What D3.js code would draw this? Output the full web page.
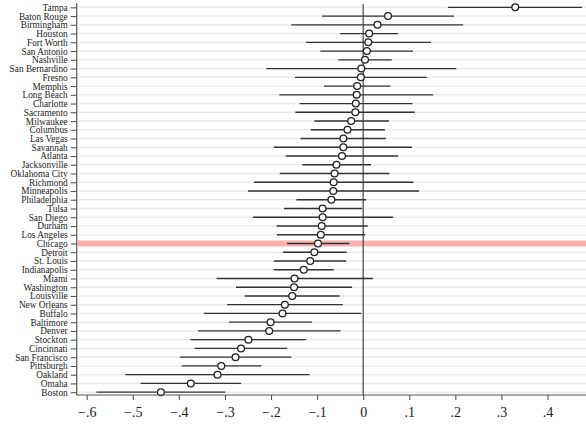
<!DOCTYPE html>
<html>
<head>
<meta charset="utf-8">
<script src="https://cdn.jsdelivr.net/npm/d3@7"></script>
<style>
  html, body { margin: 0; padding: 0; background: #fff; }
  svg { display: block; }
</style>
</head>
<body>
<script>
const cities = ["Tampa","Baton Rouge","Birmingham","Houston","Fort Worth","San Antonio","Nashville","San Bernardino","Fresno","Memphis","Long Beach","Charlotte","Sacramento","Milwaukee","Columbus","Las Vegas","Savannah","Atlanta","Jacksonville","Oklahoma City","Richmond","Minneapolis","Philadelphia","Tulsa","San Diego","Durham","Los Angeles","Chicago","Detroit","St. Louis","Indianapolis","Miami","Washington","Louisville","New Orleans","Buffalo","Baltimore","Denver","Stockton","Cincinnati","San Francisco","Pittsburgh","Oakland","Omaha","Boston"];
const estimates = [0.330,0.054,0.031,0.013,0.011,0.008,0.004,-0.004,-0.005,-0.013,-0.014,-0.016,-0.017,-0.026,-0.034,-0.043,-0.043,-0.046,-0.058,-0.062,-0.064,-0.065,-0.069,-0.088,-0.088,-0.090,-0.092,-0.098,-0.106,-0.115,-0.129,-0.149,-0.150,-0.154,-0.170,-0.175,-0.201,-0.204,-0.249,-0.265,-0.277,-0.308,-0.316,-0.374,-0.439];
const lower = [0.184,-0.089,-0.156,-0.050,-0.124,-0.093,-0.054,-0.210,-0.148,-0.085,-0.182,-0.138,-0.147,-0.106,-0.114,-0.136,-0.194,-0.168,-0.132,-0.181,-0.237,-0.250,-0.145,-0.172,-0.239,-0.188,-0.187,-0.165,-0.174,-0.194,-0.194,-0.318,-0.276,-0.257,-0.295,-0.346,-0.291,-0.358,-0.375,-0.366,-0.398,-0.394,-0.516,-0.483,-0.579];
const upper = [0.475,0.197,0.217,0.076,0.147,0.108,0.062,0.202,0.138,0.059,0.152,0.107,0.112,0.056,0.047,0.049,0.106,0.076,0.017,0.057,0.109,0.121,0.0065,-0.002,0.065,0.010,0.004,-0.030,-0.036,-0.037,-0.064,0.021,-0.024,-0.051,-0.044,-0.004,-0.111,-0.049,-0.124,-0.165,-0.156,-0.221,-0.116,-0.265,-0.299];
const highlight = "Chicago";
const xTicks = [-0.6,-0.5,-0.4,-0.3,-0.2,-0.1,0,0.1,0.2,0.3,0.4];

const W = 586, H = 425;
const pLeft = 76.7, pRight = 586, pTop = 3, pBottom = 395;

const svg = d3.select("body").append("svg").attr("width", W).attr("height", H);

const x = d3.scaleLinear().domain([-0.6, 0.4]).range([86.7, 547.5]);
const y = d3.scalePoint().domain(cities).range([7.3, 392.2]).padding(0);

const rows = cities.map((c, i) => ({c, est: estimates[i], lo: lower[i], hi: upper[i]}));

// gridlines
svg.append("g").selectAll("line").data(cities).join("line")
  .attr("x1", pLeft + 1).attr("x2", pRight)
  .attr("y1", d => y(d)).attr("y2", d => y(d))
  .attr("stroke", "#ebebeb").attr("stroke-width", 1.5);

// highlight band
svg.append("rect")
  .attr("x", pLeft + 1).attr("width", pRight - pLeft - 1)
  .attr("y", y(highlight) - 3).attr("height", 6)
  .attr("fill", "#fbb0b0");

// zero line
svg.append("line")
  .attr("x1", x(0)).attr("x2", x(0)).attr("y1", 4).attr("y2", pBottom)
  .attr("stroke", "#444").attr("stroke-width", 1.2);

// CI lines
svg.append("g").selectAll("line").data(rows).join("line")
  .attr("x1", d => x(d.lo)).attr("x2", d => x(d.hi))
  .attr("y1", d => y(d.c)).attr("y2", d => y(d.c))
  .attr("stroke", "#333").attr("stroke-width", 1.3);

// points
svg.append("g").selectAll("circle").data(rows).join("circle")
  .attr("cx", d => x(d.est)).attr("cy", d => y(d.c)).attr("r", 3.4)
  .attr("fill", "#fff").attr("stroke", "#222").attr("stroke-width", 1.3);

// y axis
const yAxis = d3.axisLeft(y).tickSize(6).tickPadding(3);
const gy = svg.append("g").attr("transform", `translate(${pLeft},0)`).call(yAxis);
gy.select(".domain").attr("d", `M0,${pTop}V${pBottom}`).attr("stroke", "#555").attr("stroke-width", 1.2);
gy.selectAll(".tick line").attr("stroke", "#555").attr("stroke-width", 1.1);
gy.selectAll(".tick text")
  .attr("font-family", "'Liberation Serif', 'Times New Roman', serif")
  .attr("font-size", "9.3px").attr("fill", "#222");

// x axis
const fmt = v => v === 0 ? "0" : d3.format(".1f")(v).replace("0.", ".");
const xAxis = d3.axisBottom(x).tickValues(xTicks).tickSize(5).tickPadding(7).tickFormat(fmt);
const gx = svg.append("g").attr("transform", `translate(0,${pBottom})`).call(xAxis);
gx.select(".domain").attr("d", `M${pLeft},0H${pRight}`).attr("stroke", "#555").attr("stroke-width", 1.2);
gx.selectAll(".tick line").attr("stroke", "#555").attr("stroke-width", 1.1);
gx.selectAll(".tick text")
  .attr("font-family", "'Liberation Serif', 'Times New Roman', serif")
  .attr("font-size", "14px").attr("fill", "#222");
</script>
</body>
</html>
